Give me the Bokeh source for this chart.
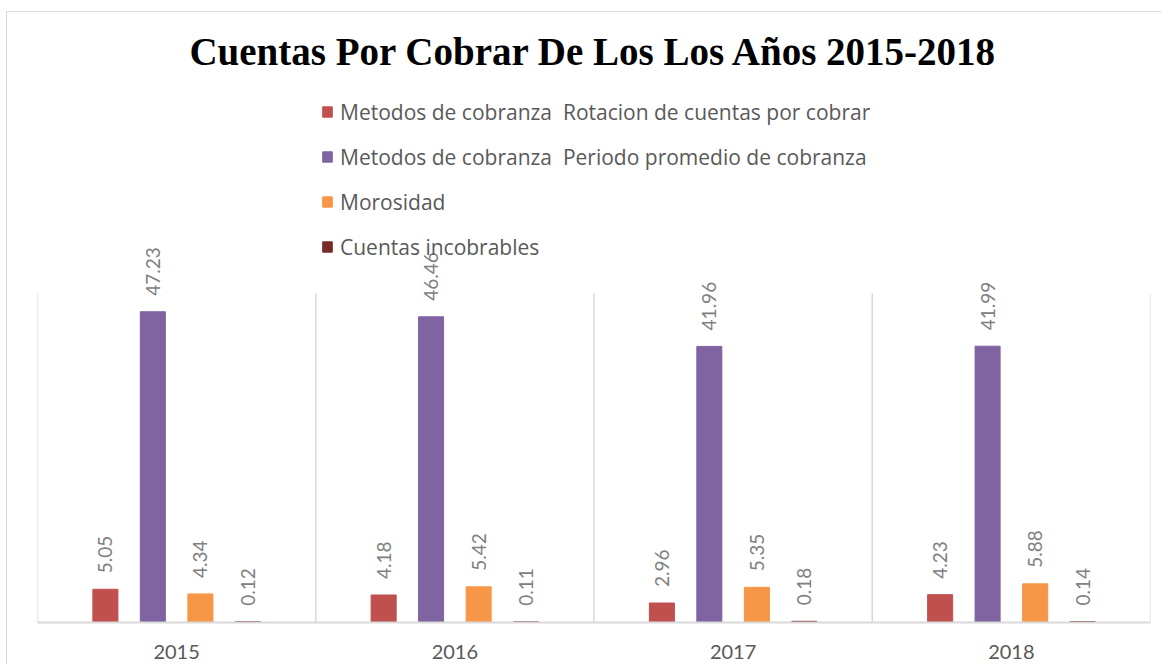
import math
from bokeh.plotting import figure
from bokeh.models import (FactorRange, Range1d, Legend, LegendItem, Title,
                          ColumnDataSource)
from bokeh.transform import dodge
from bokeh.embed import file_html
from bokeh.resources import INLINE
from bokeh.core.properties import value

years = ["2015", "2016", "2017", "2018"]
rotacion = [5.05, 4.18, 2.96, 4.23]
periodo = [47.23, 46.46, 41.96, 41.99]
morosidad = [4.34, 5.42, 5.35, 5.88]
incobrables = [0.12, 0.11, 0.18, 0.14]
series_names = [
    "Metodos de cobranza  Rotacion de cuentas por cobrar",
    "Metodos de cobranza  Periodo promedio de cobranza",
    "Morosidad",
    "Cuentas incobrables",
]
series_colors = ["#C0504D", "#8064A2", "#F79646", "#772C2A"]
title_text = "Cuentas Por Cobrar De Los Los Años 2015-2018"
axis_max = 50

series = [rotacion, periodo, morosidad, incobrables]
data = {"year": years}
for i, s in enumerate(series):
    data[f"s{i}"] = s
    data[f"l{i}"] = [f"{v:.2f}" for v in s]
src = ColumnDataSource(data)

# layout: plot area (value axis 0..axis_max) occupies 329px of a 541px tall frame;
# the upper part of the frame hosts the legend and the value labels
frame_h, plot_h = 541, 329
p = figure(x_range=FactorRange(*years), y_range=Range1d(0, axis_max * frame_h / plot_h),
           width=1161, height=664, output_backend="svg", toolbar_location=None,
           title=None, min_border_left=37, min_border_right=11,
           min_border_top=81, min_border_bottom=42)
p.border_fill_alpha = 0
p.background_fill_alpha = 0
p.styles = {
    "background-color": "white",
    "background-image": "linear-gradient(#d9d9d9, #d9d9d9), linear-gradient(#d9d9d9, #d9d9d9)",
    "background-size": "1px 100%, 100% 1px",
    "background-position": "6px 11px, 6px 11px",
    "background-repeat": "no-repeat",
}
p.x_range.range_padding = 0

# category separators (vertical grid lines) spanning the value axis only
bounds = list(range(len(years) + 1))
p.segment(x0=bounds, y0=[0] * len(bounds), x1=bounds, y1=[axis_max] * len(bounds),
          line_color="#D9D9D9", line_width=1.5)

offsets = [-0.256, -0.0855, 0.0855, 0.256]
bar_w = 0.09
renderers = []
for i, (off, col) in enumerate(zip(offsets, series_colors)):
    r = p.vbar(x=dodge("year", off, range=p.x_range), top=f"s{i}", width=bar_w,
               source=src, fill_color=col, line_color=col)
    renderers.append(r)
    p.text(x=dodge("year", off, range=p.x_range), y=f"s{i}", text=f"l{i}",
           source=src, angle=math.pi / 2, text_align="left", text_baseline="middle",
           y_offset=-16, text_font=value("Lato"), text_font_size="19px",
           text_color="#808080")

legend = Legend(items=[LegendItem(label=n, renderers=[r]) for n, r in zip(series_names, renderers)],
                location=(284, 361), orientation="vertical",
                glyph_width=12, glyph_height=13, label_height=29, spacing=16,
                padding=0, margin=0, label_standoff=7,
                border_line_color=None, background_fill_alpha=0,
                label_text_font="Open Sans", label_text_font_size="21px",
                label_text_color="#595959")
p.add_layout(legend)

p.add_layout(Title(text=title_text, align="center", text_font="Liberation Serif",
                   text_font_size="39px", text_font_style="bold", text_color="black",
                   standoff=17),
             "above")

p.yaxis.visible = False
p.ygrid.grid_line_color = None
p.xgrid.grid_line_color = None
p.outline_line_color = None
p.xaxis.axis_line_color = "#D9D9D9"
p.xaxis.axis_line_width = 2
p.xaxis.major_tick_line_color = None
p.xaxis.minor_tick_line_color = None
p.xaxis.major_label_standoff = 16
p.xaxis.major_label_text_font = "Lato"
p.xaxis.major_label_text_font_size = "20px"
p.xaxis.major_label_text_color = "#595959"

open("out.html", "w").write(file_html(p, INLINE))
